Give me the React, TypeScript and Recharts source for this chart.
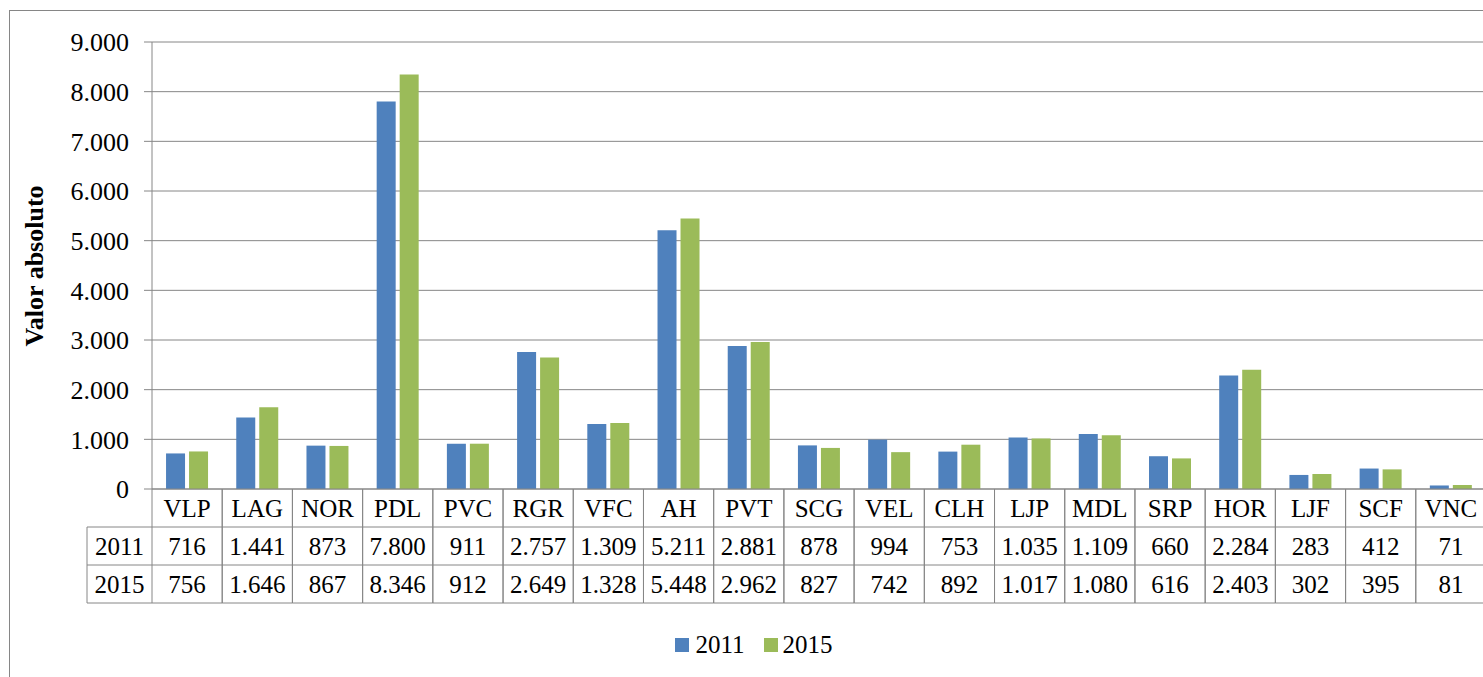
import { BarChart, Bar, XAxis, YAxis, CartesianGrid, Legend } from 'recharts';

const categories = ['VLP', 'LAG', 'NOR', 'PDL', 'PVC', 'RGR', 'VFC', 'AH', 'PVT', 'SCG', 'VEL', 'CLH', 'LJP', 'MDL', 'SRP', 'HOR', 'LJF', 'SCF', 'VNC'];
const values2011 = [716, 1441, 873, 7800, 911, 2757, 1309, 5211, 2881, 878, 994, 753, 1035, 1109, 660, 2284, 283, 412, 71];
const values2015 = [756, 1646, 867, 8346, 912, 2649, 1328, 5448, 2962, 827, 742, 892, 1017, 1080, 616, 2403, 302, 395, 81];
const seriesNames = ['2011', '2015'];
const yTicks = [0, 1000, 2000, 3000, 4000, 5000, 6000, 7000, 8000, 9000];

const BLUE = '#4F81BD';
const GREEN = '#9BBB59';
const LINE = '#868686';
const FONT = 'Liberation Serif, Times New Roman, serif';

const AXIS_W = 152;
const PLOT_W = 1334;
const COL_W = PLOT_W / categories.length;
const ROW_H = 38;
const HEAD_W = 65;

// 1441 -> "1.441"
const fmt = (n: number) => String(n).replace(/\B(?=(\d{3})+(?!\d))/g, '.');

const data = categories.map((cat, i) => ({ cat, v2011: values2011[i], v2015: values2015[i] }));

function TableTick(props: any) {
  const { x, y, payload } = props;
  const i = categories.indexOf(payload.value);
  const left = x - COL_W / 2;
  const right = x + COL_W / 2;
  const cells = [payload.value, fmt(values2011[i]), fmt(values2015[i])];
  const txt = { fontSize: 25, fill: '#000', textAnchor: 'middle' as const, dominantBaseline: 'central' as const, style: { fontFamily: FONT } };
  return (
    <g>
      <line x1={left} x2={left} y1={y} y2={y + 3 * ROW_H} stroke={LINE} />
      <line x1={right} x2={right} y1={y} y2={y + 3 * ROW_H} stroke={LINE} />
      {[1, 2, 3].map(r => (
        <line key={r} x1={left} x2={right} y1={y + r * ROW_H} y2={y + r * ROW_H} stroke={LINE} />
      ))}
      {cells.map((t, r) => (
        <text key={r} x={x} y={y + r * ROW_H + ROW_H / 2} {...txt}>{t}</text>
      ))}
      {i === 0 && (
        <g>
          <line x1={left - HEAD_W} x2={left - HEAD_W} y1={y + ROW_H} y2={y + 3 * ROW_H} stroke={LINE} />
          {[1, 2, 3].map(r => (
            <line key={r} x1={left - HEAD_W} x2={left} y1={y + r * ROW_H} y2={y + r * ROW_H} stroke={LINE} />
          ))}
          {seriesNames.map((s, r) => (
            <text key={s} x={left - HEAD_W / 2} y={y + (r + 1) * ROW_H + ROW_H / 2} {...txt}>{s}</text>
          ))}
        </g>
      )}
    </g>
  );
}

function LegendBox() {
  return (
    <div style={{ height: 40, display: 'flex', justifyContent: 'center', alignItems: 'center', paddingLeft: 22, fontFamily: FONT, fontSize: 25, color: '#000' }}>
      <span style={{ width: 14, height: 14, background: BLUE, marginRight: 6 }} />
      <span style={{ marginRight: 19 }}>{seriesNames[0]}</span>
      <span style={{ width: 14, height: 14, background: GREEN, marginRight: 5 }} />
      <span>{seriesNames[1]}</span>
    </div>
  );
}

export default function App() {
  return (
    <div style={{ position: 'fixed', left: 0, top: 0, width: 1483, height: 677, overflow: 'hidden', background: '#fff', fontFamily: FONT }}>
      <div style={{ position: 'absolute', left: 9, top: 10, width: 1600, height: 800, border: `1px solid ${LINE}` }} />
      <div style={{ position: 'absolute', left: 0, top: 0 }}>
        <BarChart
          width={AXIS_W + PLOT_W}
          height={677}
          data={data}
          margin={{ top: 42, right: 0, left: 0, bottom: 12 }}
          barCategoryGap="20%"
          barGap={4}
          style={{ fontFamily: FONT }}
        >
          <CartesianGrid vertical={false} stroke={LINE} />
          <XAxis
            dataKey="cat"
            height={136}
            interval={0}
            tickSize={0}
            tickMargin={0}
            tickLine={false}
            axisLine={{ stroke: LINE }}
            tick={<TableTick />}
          />
          <YAxis
            width={AXIS_W}
            domain={[0, 9000]}
            ticks={yTicks}
            tickFormatter={fmt}
            tickSize={8}
            tickMargin={15}
            axisLine={{ stroke: LINE }}
            tickLine={{ stroke: LINE }}
            tick={{ fontSize: 26, fill: '#000', style: { fontFamily: FONT } }}
            label={{
              content: () => (
                <text
                  transform="translate(42.5, 266) rotate(-90)"
                  textAnchor="middle"
                  style={{ fontFamily: FONT, fontSize: 26, fontWeight: 'bold', fill: '#000' }}
                >
                  Valor absoluto
                </text>
              ),
            }}
          />
          <Legend verticalAlign="bottom" content={() => <LegendBox />} />
          <Bar dataKey="v2011" name={seriesNames[0]} fill={BLUE} isAnimationActive={false} />
          <Bar dataKey="v2015" name={seriesNames[1]} fill={GREEN} isAnimationActive={false} />
        </BarChart>
      </div>
    </div>
  );
}
